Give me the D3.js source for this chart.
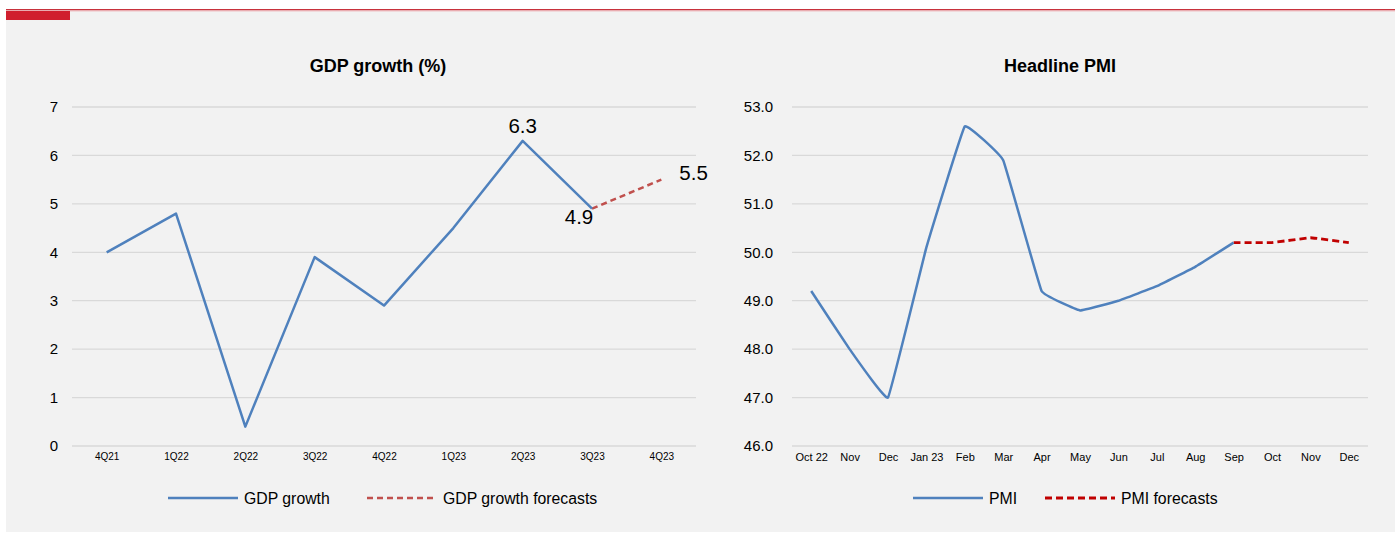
<!DOCTYPE html>
<html><head><meta charset="utf-8">
<script src="https://cdn.jsdelivr.net/npm/d3@7"></script>
<style>
html,body{margin:0;padding:0;background:#fff;}
text{font-family:Arial,"Liberation Sans",sans-serif;fill:#000;}
</style></head>
<body>
<svg id="c" width="1395" height="533"></svg>
<script>
// ---- data ----
const gdpCategories = ["4Q21","1Q22","2Q22","3Q22","4Q22","1Q23","2Q23","3Q23","4Q23"];
const gdpActual = [4.0, 4.8, 0.4, 3.9, 2.9, 4.5, 6.3, 4.9, null];
const gdpForecast = [null, null, null, null, null, null, null, 4.9, 5.5];
const gdpTicks = [0,1,2,3,4,5,6,7];
const gdpLabels = [{i:6, v:"6.3"}, {i:7, v:"4.9"}, {i:8, v:"5.5"}];

const pmiCategories = ["Oct 22","Nov","Dec","Jan 23","Feb","Mar","Apr","May","Jun","Jul","Aug","Sep","Oct","Nov","Dec"];
const pmiActual = [49.2, 48.0, 47.0, 50.1, 52.6, 51.9, 49.2, 48.8, 49.0, 49.3, 49.7, 50.2, null, null, null];
const pmiForecast = [null, null, null, null, null, null, null, null, null, null, null, 50.2, 50.2, 50.3, 50.2];
const pmiTicks = [46,47,48,49,50,51,52,53];

const FONT = "Arial, 'Liberation Sans', sans-serif";
const svg = d3.select("#c");
// background & header decoration
svg.append("rect").attr("x",6).attr("y",10).attr("width",1389).attr("height",522).attr("fill","#f2f2f2");
svg.append("rect").attr("x",6).attr("y",9).attr("width",1389).attr("height",1.3).attr("fill","#c8323c");
svg.append("rect").attr("x",6).attr("y",10.5).attr("width",1389).attr("height",0.8).attr("fill","#eda0a6");
svg.append("rect").attr("x",6).attr("y",11).attr("width",64).attr("height",9).attr("fill","#d01f2e");

function chart(o){
  const g = svg.append("g");
  const idx = o.cats.map((c,i)=>i);
  const x = d3.scalePoint().domain(idx).range([o.x0, o.x1]).padding(0.5);
  const y = d3.scaleLinear().domain(o.domain).range([o.y0, o.y1]);
  // gridlines
  g.selectAll(".grid").data(o.ticks).join("line")
    .attr("x1",o.x0).attr("x2",o.x1)
    .attr("y1",d=>y(d)).attr("y2",d=>y(d))
    .attr("stroke","#d9d9d9").attr("stroke-width",1.3);
  // y axis labels
  const ya = d3.axisLeft(y).tickValues(o.ticks).tickFormat(o.fmt).tickSize(0).tickPadding(0);
  const yg = g.append("g").attr("transform",`translate(${o.ylabX},0)`).call(ya);
  yg.select(".domain").remove();
  yg.selectAll("text").attr("font-size",15).attr("fill","#000").attr("font-family",FONT);
  // x axis labels
  const xa = d3.axisBottom(x).tickSize(0).tickPadding(0).tickFormat(i=>o.cats[i]);
  const xg = g.append("g").attr("transform",`translate(0,${o.y0+7})`).call(xa);
  xg.select(".domain").remove();
  xg.selectAll("text").attr("font-size",o.xfs).attr("fill","#000").attr("dy","0.71em").attr("font-family",FONT);
  // title
  g.append("text").attr("x",o.titleX).attr("y",72).attr("text-anchor","middle")
    .attr("font-size",18).attr("font-weight","bold").text(o.title);
  // lines
  const line = d3.line().defined(d=>d.v!==null).x(d=>x(d.i)).y(d=>y(d.v)).curve(o.curve);
  const act = idx.map(i=>({i, v:o.actual[i]}));
  const fc = idx.map(i=>({i, v:o.forecast[i]}));
  g.append("path").attr("d",line(fc)).attr("fill","none").attr("stroke",o.fcColor)
    .attr("stroke-width",o.fcWidth).attr("stroke-dasharray",o.fcDash);
  g.append("path").attr("d",line(act)).attr("fill","none").attr("stroke","#4f81bd")
    .attr("stroke-width",2.5).attr("stroke-linejoin","round");
  // legend
  const lg = g.append("g");
  lg.append("line").attr("x1",o.leg[0]).attr("x2",o.leg[0]+70).attr("y1",498).attr("y2",498)
    .attr("stroke","#4f81bd").attr("stroke-width",2.5);
  lg.append("text").attr("x",o.leg[0]+76).attr("y",503.5).attr("font-size",15.8).text(o.legText[0]);
  lg.append("line").attr("x1",o.leg[1]).attr("x2",o.leg[1]+70).attr("y1",498).attr("y2",498)
    .attr("stroke",o.fcColor).attr("stroke-width",o.fcWidth).attr("stroke-dasharray",o.fcDash);
  lg.append("text").attr("x",o.leg[1]+76).attr("y",503.5).attr("font-size",15.8).text(o.legText[1]);
  return {x,y,g};
}

const left = chart({
  cats: gdpCategories, actual: gdpActual, forecast: gdpForecast, ticks: gdpTicks,
  domain:[0,7], x0:72, x1:696, y0:446, y1:107, ylabX:58, fmt:d3.format("d"), xfs:10,
  title:"GDP growth (%)", titleX:378, curve:d3.curveLinear,
  fcColor:"#c0504d", fcWidth:2.5, fcDash:"6,4",
  leg:[168,367], legText:["GDP growth","GDP growth forecasts"]
});
// data labels for GDP
const offs = {6:{dx:0,dy:-8,a:"middle"},7:{dx:-13,dy:15,a:"middle"},8:{dx:18,dy:0,a:"start"}};
gdpLabels.forEach(l=>{
  const v = gdpActual[l.i] ?? gdpForecast[l.i];
  const o = offs[l.i];
  left.g.append("text").attr("x",left.x(l.i)+o.dx).attr("y",left.y(v)+o.dy)
    .attr("text-anchor",o.a).attr("font-size",20.5).text(l.v);
});

chart({
  cats: pmiCategories, actual: pmiActual, forecast: pmiForecast, ticks: pmiTicks,
  domain:[46,53], x0:792, x1:1368, y0:446, y1:107, ylabX:773, fmt:d3.format(".1f"), xfs:11,
  title:"Headline PMI", titleX:1060, curve:d3.curveCardinal.tension(0.8),
  fcColor:"#c00000", fcWidth:2.8, fcDash:"7,4",
  leg:[913,1045], legText:["PMI","PMI forecasts"]
});
</script>
</body></html>
